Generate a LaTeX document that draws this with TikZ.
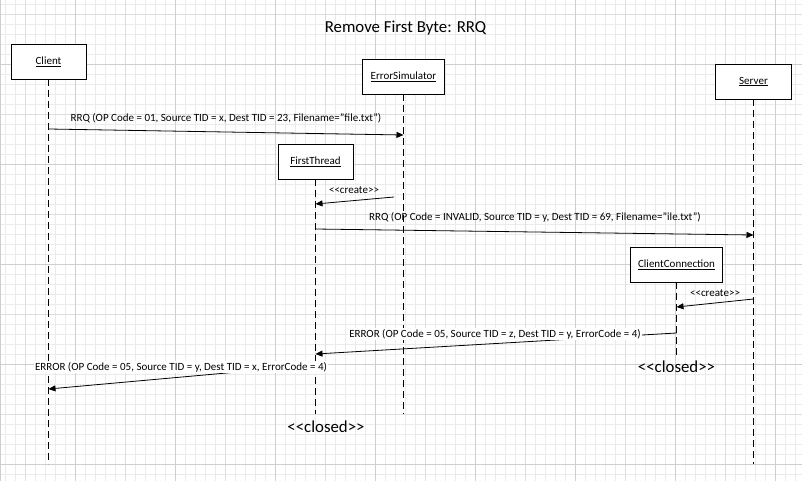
\documentclass[tikz,border=0pt]{standalone}
\usepackage{fontspec}
\setmainfont{Carlito}
\usetikzlibrary{arrows.meta}
\definecolor{gridminor}{HTML}{EBEBEB}
\definecolor{gridmid}{HTML}{DDDDDD}
\definecolor{gridmajor}{HTML}{CFCFCF}
\begin{document}
\begin{tikzpicture}[x=1pt, y=1pt,
                    every node/.style={text centered, font=\fontsize{11}{13}\selectfont},
                    object/.style={draw, fill=white, line width=0.9pt, minimum height=35pt, inner sep=0pt},
                    lifeline/.style={line width=1pt, dash pattern=on 7pt off 4pt},
                    message/.style={line width=0.8pt, -{Triangle[length=7pt, width=6pt]}},
                    msglabel/.style={fill=white, inner sep=1pt},
                    bigtext/.style={font=\fontsize{16.8}{20}\selectfont}]
      \useasboundingbox (0,0) rectangle (802,-481);
      % background grid
      \begin{scope}
        \clip (0,0) rectangle (802,-481);
        \fill[white] (0,0) rectangle (802,-481);
        \begin{scope}[xshift=5pt, yshift=-4pt]
          \draw[gridminor, line width=0.8pt, step=10pt] (-20,20) grid (820,-500);
        \end{scope}
        \begin{scope}[xshift=25pt, yshift=-14pt]
          \draw[gridmid, line width=0.8pt, step=50pt] (-50,50) grid (850,-550);
        \end{scope}
        \begin{scope}[xshift=75pt, yshift=-64pt]
          \draw[gridmajor, line width=0.8pt, step=100pt] (-100,100) grid (800,-500);
        \end{scope}
        \draw[gridmajor, line width=1.2pt] (0.6,0) -- (0.6,-481);
      \end{scope}
      % lifeline ends
      \coordinate (client_end) at (48.5, -464);
      \coordinate (errorsim_end) at (403.5, -414);
      \coordinate (server_end) at (753.5, -464);
      \coordinate (firstthread_end) at (315.5, -414);
      \coordinate (clientconn_end) at (676.5, -355);
      % message points
      \coordinate (rrq_a) at (48.5, -129);
      \coordinate (rrq_b) at (403.5, -135);
      \coordinate (create_a) at (394, -197);
      \coordinate (create_b) at (315.5, -204);
      \coordinate (rrq_c) at (315.5, -229);
      \coordinate (rrq_d) at (753.5, -235);
      \coordinate (create_c) at (753.5, -299);
      \coordinate (create_d) at (676.5, -307);
      \coordinate (error_a) at (676.5, -333);
      \coordinate (error_b) at (315.5, -354);
      \coordinate (error_c) at (315.5, -365);
      \coordinate (error_d) at (48.5, -389);
      \node[bigtext] (title) at (405.5, -28) {Remove First Byte: RRQ};
      \draw[lifeline] (48.5, -79) -- (client_end);
      \draw[lifeline] (403.5, -94) -- (errorsim_end);
      \draw[lifeline] (753.5, -99) -- (server_end);
      \draw[lifeline] (315.5, -179) -- (firstthread_end);
      \draw[lifeline] (676.5, -282) -- (clientconn_end);
      \node[object, minimum width=75pt] (client) at (48.5, -61.5) {\underline{Client}};
      \node[object, minimum width=82pt] (error_simulator) at (403.5, -76.5) {\underline{ErrorSimulator}};
      \node[object, minimum width=76pt] (server) at (753.5, -81.5) {\underline{Server}};
      \node[object, minimum width=75pt] (first_thread) at (315.5, -161.5) {\underline{FirstThread}};
      \node[object, minimum width=92pt] (client_connection) at (676.5, -264.5) {\underline{ClientConnection}};
      \draw[message] (rrq_a) -- (rrq_b);
      \node (rrq_client) at (226, -118) {RRQ (OP Code = 01, Source TID = x, Dest TID = 23, Filename="file.txt")};
      \draw[message] (create_a) -- (create_b);
      \node (create_thread) at (354, -190) {<{}<create>{}>};
      \draw[message] (rrq_c) -- (rrq_d);
      \node (rrq_thread) at (535, -217) {RRQ (OP Code = INVALID, Source TID = y, Dest TID = 69, Filename="ile.txt")};
      \draw[message] (create_c) -- (create_d);
      \node (create_connection) at (715, -293) {<{}<create>{}>};
      \draw[message] (error_a) -- (error_b);
      \node[msglabel] (error_connection) at (495, -334) {ERROR (OP Code = 05, Source TID = z, Dest TID = y, ErrorCode = 4)};
      \draw[message] (error_c) -- (error_d);
      \node[msglabel] (error_thread) at (181, -367) {ERROR (OP Code = 05, Source TID = y, Dest TID = x, ErrorCode = 4)};
      \node[bigtext] (closed_connection) at (676.5, -367) {<{}<closed>{}>};
      \node[bigtext] (closed_thread) at (326, -427) {<{}<closed>{}>};
    \end{tikzpicture}
\end{document}
